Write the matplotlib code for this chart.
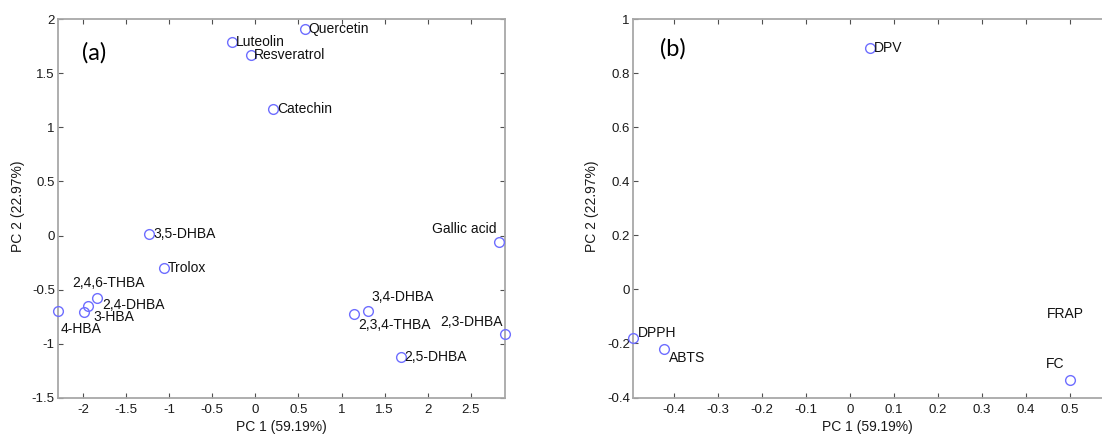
import matplotlib
matplotlib.use("Agg")
import matplotlib.pyplot as plt
from matplotlib.ticker import FuncFormatter
import numpy as np

# ---------------- data ----------------
names_a = ["Quercetin", "Luteolin", "Resveratrol", "Catechin", "3,5-DHBA", "Trolox",
           "Gallic acid", "2,4,6-THBA", "2,4-DHBA", "3-HBA", "4-HBA", "3,4-DHBA",
           "2,3,4-THBA", "2,3-DHBA", "2,5-DHBA"]
pc1_a = [0.573, -0.267, -0.053, 0.209, -1.233, -1.063, 2.827, -1.833, -1.944, -1.987,
         -2.285, 1.311, 1.145, 2.895, 1.690]
pc2_a = [1.905, 1.788, 1.668, 1.166, 0.018, -0.300, -0.059, -0.579, -0.653, -0.708,
         -0.693, -0.693, -0.726, -0.905, -1.121]

names_b = ["DPV", "DPPH", "ABTS", "FC", "FRAP"]
pc1_b = [0.045, -0.493, -0.424, 0.501, 0.592]
pc2_b = [0.894, -0.180, -0.219, -0.334, -0.135]

xticks_a = [-2, -1.5, -1, -0.5, 0, 0.5, 1, 1.5, 2, 2.5]
yticks_a = [-1.5, -1, -0.5, 0, 0.5, 1, 1.5, 2]
xticks_b = [-0.4, -0.3, -0.2, -0.1, 0, 0.1, 0.2, 0.3, 0.4, 0.5]
yticks_b = [-0.4, -0.2, 0, 0.2, 0.4, 0.6, 0.8, 1]

xlabel = "PC 1 (59.19%)"
ylabel = "PC 2 (22.97%)"

# label placement: (ha, dx px, dy px)
lab_a = {"Quercetin": ("left", 4, 0), "Luteolin": ("left", 4, 0),
         "Resveratrol": ("left", 3, 0), "Catechin": ("left", 4, 0),
         "3,5-DHBA": ("left", 4, 0), "Trolox": ("left", 4, 0),
         "Gallic acid": ("right", -3, 13), "2,4,6-THBA": ("center", 11, 15),
         "2,4-DHBA": ("left", 15, 1), "3-HBA": ("left", 9, -5),
         "4-HBA": ("left", 2, -18), "3,4-DHBA": ("left", 3, 14),
         "2,3,4-THBA": ("left", 4, -11), "2,3-DHBA": ("right", -2, 12),
         "2,5-DHBA": ("left", 3, 0)}
lab_b = {"DPV": ("left", 4, 0), "DPPH": ("left", 5, 5), "ABTS": ("left", 5, -9),
         "FC": ("right", -6, 16), "FRAP": ("left", -63, 12)}

plt.rcParams['axes.unicode_minus'] = False
plt.rcParams['font.family'] = ['Liberation Sans', 'DejaVu Sans']

W, H = 1102, 434
fig = plt.figure(figsize=(W / 100, H / 100), dpi=100)
fig.patch.set_facecolor('white')

def px_axes(l, r, t, b):
    return fig.add_axes([l / W, (H - b) / H, (r - l) / W, (b - t) / H])

mcol = "#6e6eff"
spine_col = "#a8a8a8"
fmt = FuncFormatter(lambda v, p: ("%g" % round(v, 6)))

def style(ax, xt, yt):
    for s in ax.spines.values():
        s.set_color(spine_col)
        s.set_linewidth(1.3)
    ax.set_xticks(xt)
    ax.set_yticks(yt)
    ax.xaxis.set_major_formatter(fmt)
    ax.yaxis.set_major_formatter(fmt)
    ax.tick_params(direction='in', top=True, right=True, length=3.5, width=0.8,
                   color='#505050', labelsize=9.5, labelcolor='#1a1a1a')
    ax.tick_params(axis='x', pad=4.5)
    ax.tick_params(axis='y', pad=2.5)

def draw(ax, xs, ys, names, labs):
    ax.plot(xs, ys, linestyle='none', marker='o', markersize=7,
            markerfacecolor='none', markeredgecolor=mcol, markeredgewidth=1.0,
            clip_on=False, zorder=3)
    for x, y, n in zip(xs, ys, names):
        ha, dx, dy = labs[n]
        ax.annotate(n, (x, y), xytext=(dx, dy), textcoords='offset pixels',
                    ha=ha, va='center', fontsize=10, color='#111111',
                    annotation_clip=False)

# panel (a)
ax1 = px_axes(58.3, 505, 19, 398)
draw(ax1, pc1_a, pc2_a, names_a, lab_a)
ax1.set_xlim(min(pc1_a), max(pc1_a))
ax1.set_ylim(-1.5, 2)
style(ax1, xticks_a, yticks_a)
ax1.text(0.054, 0.91, "(a)", transform=ax1.transAxes, fontsize=17,
         family=['Lato', 'DejaVu Sans'], ha='left', va='center')

# panel (b)
ax2 = px_axes(633.3, 1110, 19, 397.5)
draw(ax2, pc1_b, pc2_b, names_b, lab_b)
ax2.set_xlim(min(pc1_b), max(pc1_b))
ax2.set_ylim(-0.4, 1)
style(ax2, xticks_b, yticks_b)
ax2.text(0.056, 0.92, "(b)", transform=ax2.transAxes, fontsize=17,
         family=['Lato', 'DejaVu Sans'], ha='left', va='center')

# axis labels
fig.text(281.7 / W, (H - 427.5) / H, xlabel, ha='center', va='center', fontsize=10, color='#1a1a1a')
fig.text(867.5 / W, (H - 427.5) / H, xlabel, ha='center', va='center', fontsize=10, color='#1a1a1a')
fig.text(18 / W, (H - 206) / H, ylabel, ha='center', va='center', rotation=90, fontsize=10, color='#1a1a1a')
fig.text(592 / W, (H - 206) / H, ylabel, ha='center', va='center', rotation=90, fontsize=10, color='#1a1a1a')

fig.savefig("out.png", dpi=100)
